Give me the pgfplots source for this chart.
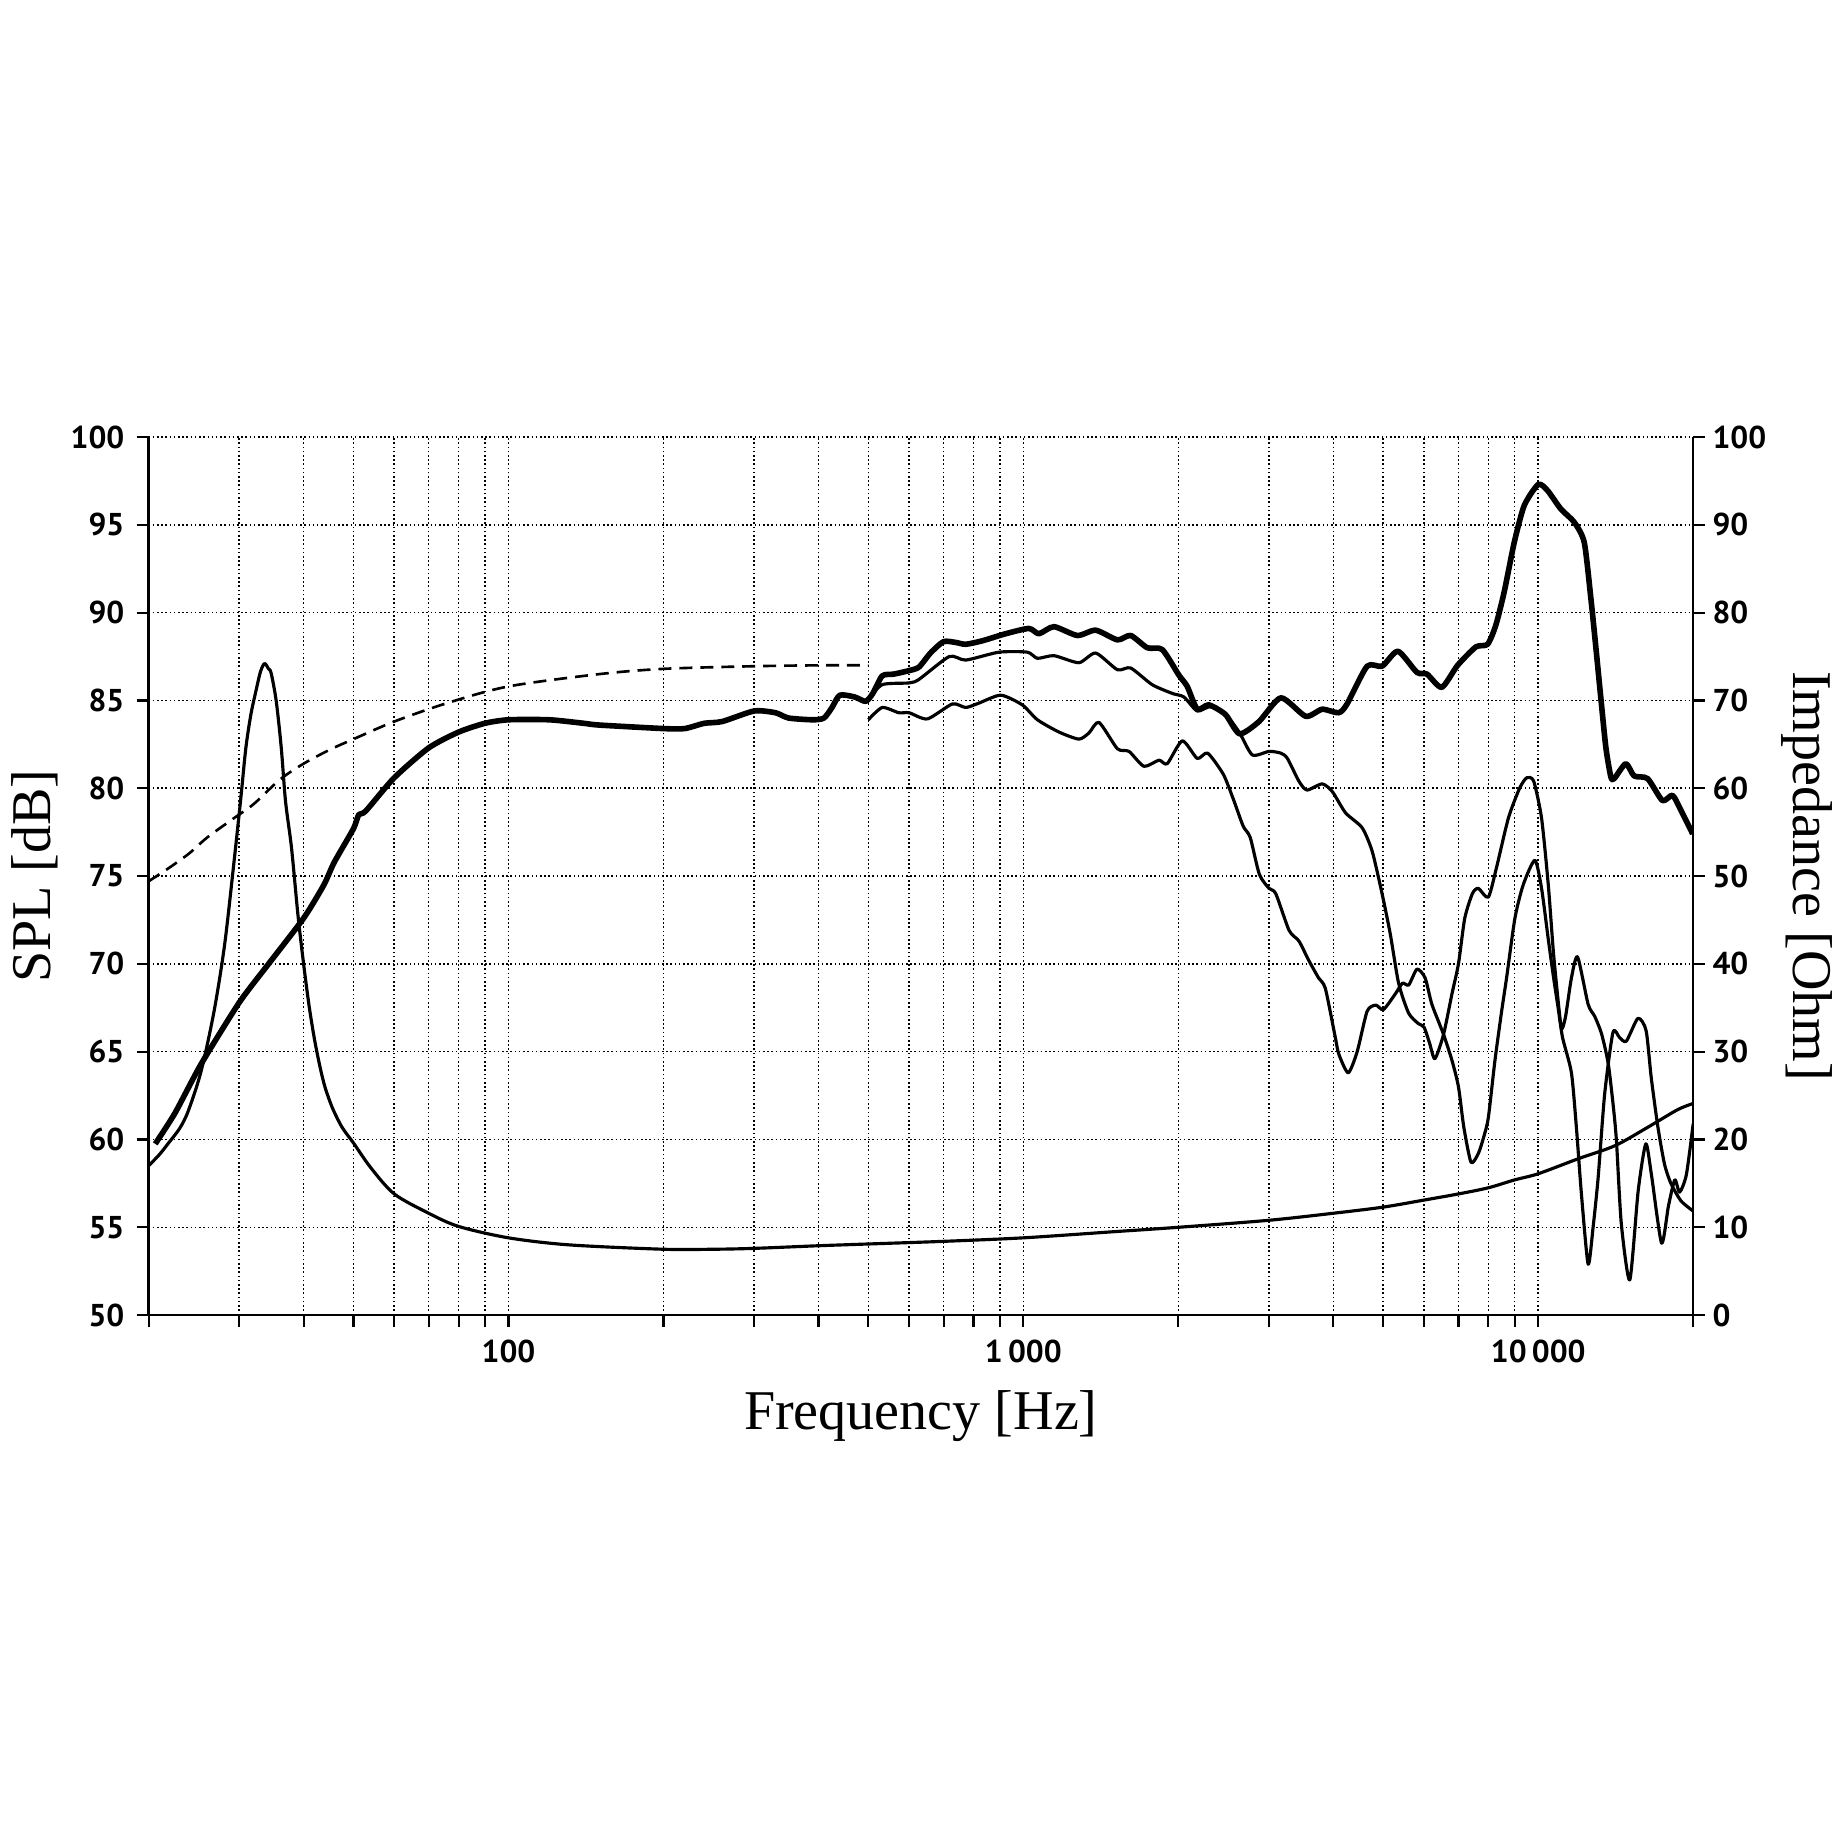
\documentclass[border=0pt]{standalone}
\usepackage{pgfplots}
\pgfplotsset{compat=1.18}
\usepackage{fontspec}
\setmainfont{Liberation Serif}
\newfontfamily\tickfont{PT Sans}
\pgfplotstableread{
x y
20.6 59.75
22.5 61.5
25.3 64.3
30 67.8
34.1 69.95
40 72.6
43.8 74.5
45.9 75.8
50 77.7
51.2 78.5
52.8 78.7
60 80.6
70 82.3
80 83.2
90 83.7
100 83.9
120 83.9
140 83.7
150 83.6
200 83.4
220 83.4
240 83.7
260 83.8
300 84.4
330 84.3
350 84.0
390 83.9
410 84.0
425 84.6
440 85.3
470 85.2
494 84.95
510 85.4
532 86.4
560 86.5
600 86.7
627 86.9
660 87.7
700 88.35
740 88.3
773 88.2
833 88.4
924 88.8
1025 89.1
1072 88.8
1147 89.2
1273 88.7
1382 89.0
1523 88.45
1616 88.7
1741 88.0
1861 87.9
2004 86.45
2081 85.8
2176 84.5
2292 84.75
2469 84.2
2630 83.1
2869 83.8
3164 85.15
3534 84.1
3805 84.5
4097 84.3
4253 84.8
4652 86.95
4975 86.95
5340 87.8
5812 86.6
6080 86.5
6497 85.75
6972 87.0
7568 88.05
7975 88.2
8275 89.3
8591 91.2
8983 94.0
9393 96.1
10000 97.3
10427 96.95
11066 95.9
11747 95.15
12285 94.0
12655 90.8
12942 88.0
13235 85.1
13535 82.3
13837 80.65
14046 80.55
14796 81.4
15357 80.7
16311 80.55
17429 79.3
18228 79.6
18930 78.75
19956 77.4
}\onaxis
\pgfplotstableread{
x y
500 85.05
532 85.9
600 86.0
627 86.2
718 87.5
773 87.3
897 87.75
1018 87.75
1065 87.4
1147 87.55
1282 87.15
1382 87.7
1523 86.75
1616 86.85
1779 85.9
1947 85.4
2050 85.2
2176 84.4
2309 84.65
2470 84.2
2625 83.2
2784 81.9
3000 82.1
3163 82.0
3257 81.7
3430 80.4
3556 79.9
3806 80.25
3985 79.8
4225 78.6
4550 77.75
4760 76.4
4978 73.95
5160 71.7
5356 68.9
5600 67.2
5850 66.6
6000 66.4
6150 65.5
6300 64.6
6550 66.0
6800 68.3
7000 70.0
7200 72.6
7450 74.0
7650 74.3
8000 73.8
8300 75.5
8750 78.3
9200 80.0
9500 80.6
9800 80.4
10150 78.3
10460 74.5
10700 70.7
10930 67.9
11100 66.3
11300 67.0
11600 69.2
11924 70.4
12500 67.7
12880 67.0
13280 66.0
13680 64.3
14000 61.8
14190 59.9
14500 55.2
15060 52.0
15640 57.1
16180 59.75
16590 58.0
17360 54.1
17900 56.2
18420 57.7
18820 57.0
19400 58.0
20000 60.9
}\offa
\pgfplotstableread{
x y
500 83.9
532 84.6
573 84.3
600 84.3
651 83.95
728 84.8
773 84.6
820 84.85
904 85.3
995 84.75
1065 83.9
1173 83.2
1282 82.8
1341 83.15
1403 83.75
1523 82.25
1604 82.1
1715 81.25
1834 81.6
1903 81.4
2036 82.7
2176 81.7
2280 82.0
2445 80.8
2556 79.4
2672 77.85
2758 77.2
2873 75.1
3000 74.3
3092 74.0
3283 71.9
3430 71.3
3584 70.2
3745 69.2
3860 68.6
4036 65.8
4100 64.85
4275 63.8
4450 65.0
4652 67.3
4836 67.65
5005 67.4
5280 68.3
5450 68.9
5604 68.8
5815 69.7
6030 69.2
6215 67.7
6545 66.0
6800 64.5
7000 63.0
7170 60.7
7405 58.7
7650 59.2
7830 60.1
8000 61.25
8240 64.5
8490 67.3
8680 69.2
9010 72.6
9350 74.5
9850 75.9
10150 74.3
10460 71.4
10700 69.3
10930 67.5
11150 65.8
11600 63.8
11860 60.7
12130 56.9
12500 52.9
12780 55.0
13070 57.8
13460 62.6
13970 66.1
14390 65.8
14830 65.6
15620 66.9
16200 66.2
16580 63.5
17080 60.7
17590 58.6
18100 57.5
18940 56.5
19950 55.95
}\offb
\pgfplotstableread{
x y
20 74.7
22 75.5
24 76.3
26 77.2
29.3 78.3
32 79.1
36 80.5
40 81.4
45 82.2
50 82.8
60 83.8
76 84.85
100 85.8
150 86.5
200 86.8
300 86.95
400 87.0
500 87.0
}\dashedcurve
\pgfplotstableread{
x y
20 17.0
21 18.3
21.8 19.5
23 21.3
23.9 23.3
25.3 27.8
26.8 34.6
28.1 42.2
29.3 51.6
30.2 58.8
30.9 64.6
31.6 68.4
32.3 71.0
33.0 73.3
33.6 74.2
34.2 73.6
34.6 73.1
35.4 69.9
36.2 64.6
36.9 58.5
37.9 53.2
39.0 45.6
40.0 40.0
41.0 35.2
42.0 31.4
43.0 28.4
44.0 26.0
45.5 23.6
47.5 21.4
50.0 19.6
54.0 16.8
60.0 13.8
70.0 11.6
80.0 10.1
100 8.8
131 8.0
200 7.5
250 7.5
300 7.6
400 7.9
500 8.1
700 8.4
1000 8.8
1500 9.5
2000 10.0
3000 10.8
4000 11.6
5000 12.3
6000 13.1
7000 13.8
8000 14.5
9000 15.4
10000 16.1
11950 17.8
14100 19.3
16330 21.4
18660 23.4
20000 24.1
}\imped
\begin{document}
\begin{tikzpicture}
\begin{axis}[name=ax,
  scale only axis, width=154.8mm, height=88mm,
  xmode=log, xmin=20, xmax=20000,
  ymin=50, ymax=100,
  axis x line=bottom, axis y line=left,
  axis line style={-, line width=0.7pt},
  tick align=outside,
  major tick length=1.2mm, minor tick length=1.2mm,
  every tick/.style={black, line width=0.6pt},
  tick label style={font=\tickfont\bfseries\fontsize{9}{10}\selectfont},
  /pgf/number format/assume math mode=true,
  ytick={50,55,...,100},
  xtick={100,1000,10000}, xticklabels={100,1\,000,10\,000},
  minor xtick={20,30,40,50,60,70,80,90,200,300,400,500,600,700,800,900,2000,3000,4000,5000,6000,7000,8000,9000,20000},
  grid=both,
  major grid style={line width=0.45pt, dash pattern=on 0.45pt off 0.75pt, black},
  minor grid style={line width=0.45pt, dash pattern=on 0.45pt off 0.75pt, black},
  xlabel={Frequency [Hz]}, ylabel={SPL [dB]},
  xlabel style={font=\fontsize{16}{18}\selectfont, at={(axis description cs:0.5,-0.115)}, anchor=center},
  ylabel style={font=\fontsize{16}{18}\selectfont, at={(axis description cs:-0.0736,0.5)}, anchor=center},
]
\addplot[black, line width=0.75pt, dash pattern=on 1.3mm off 0.8mm, smooth] table {\dashedcurve};
\addplot[black, line width=0.9pt, line join=round, smooth, tension=0.4] table {\offb};
\addplot[black, line width=0.9pt, line join=round, smooth, tension=0.4] table {\offa};
\addplot[black, line width=1.6pt, line join=round, smooth, tension=0.4] table {\onaxis};
\end{axis}
\begin{axis}[at={(ax.south west)}, anchor=south west,
  scale only axis, width=154.8mm, height=88mm,
  xmode=log, xmin=20, xmax=20000,
  ymin=0, ymax=100,
  axis x line=none, axis y line=right,
  axis line style={-, line width=0.7pt},
  tick align=outside,
  major tick length=1.2mm,
  every tick/.style={black, line width=0.6pt},
  tick label style={font=\tickfont\bfseries\fontsize{9}{10}\selectfont},
  /pgf/number format/assume math mode=true,
  ytick={0,10,...,100},
  yticklabel style={xshift=-0.5mm},
  ylabel={Impedance [Ohm]},
  ylabel style={font=\fontsize{16}{18}\selectfont, at={(axis description cs:1.0736,0.5)}, anchor=center, rotate=180},
]
\addplot[black, line width=0.9pt, smooth, tension=0.5, line join=round] table {\imped};
\end{axis}
\path (ax.south west) ++(-14.7mm,-52.6mm) rectangle ++(184.4mm,184.4mm);
\end{tikzpicture}
\end{document}
